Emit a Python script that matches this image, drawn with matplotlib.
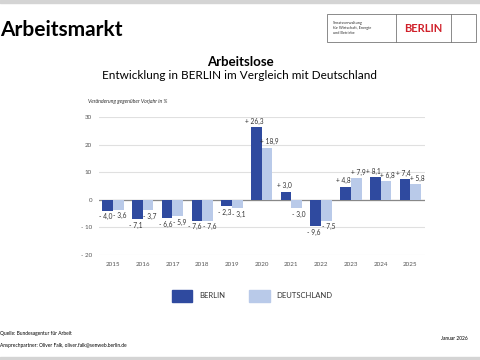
import numpy as np
import matplotlib.pyplot as plt
from matplotlib.patches import Rectangle

years = ["2015", "2016", "2017", "2018", "2019", "2020", "2021", "2022", "2023", "2024", "2025"]
berlin = [-4.0, -7.1, -6.6, -7.6, -2.3, 26.3, 3.0, -9.6, 4.8, 8.1, 7.4]
deutschland = [-3.6, -3.7, -5.9, -7.6, -3.1, 18.9, -3.0, -7.5, 7.9, 6.8, 5.8]
yticks = [-20, -10, 0, 10, 20, 30]

c_berlin = "#2f4a9f"
c_de = "#b9cae9"
grey = "#555555"

plt.rcParams['font.family'] = ['Lato', 'DejaVu Sans']

def fmt(v):
    s = f"{abs(v):.1f}".replace(".", ",")
    return ("+ " if v > 0 else "- ") + s

fig = plt.figure(figsize=(4.8, 3.6), dpi=100)

# grey bands top and bottom
fig.patches.append(Rectangle((0, 0.992), 1, 0.008, transform=fig.transFigure, color="#d4d4d4"))
fig.patches.append(Rectangle((0, 0), 1, 0.008, transform=fig.transFigure, color="#d4d4d4"))

fig.text(0.0, 1 - 30 / 360, "Arbeitsmarkt", fontsize=15, fontweight="bold", va="center", ha="left")

# logo box
fig.patches.append(Rectangle((327 / 480, 1 - 42 / 360), 149 / 480, 28 / 360, transform=fig.transFigure,
                             fill=False, edgecolor="#777777", lw=0.6))
for xx in (396, 451):
    fig.add_artist(plt.Line2D([xx / 480, xx / 480], [1 - 42 / 360, 1 - 14 / 360], color="#777777", lw=0.6))
fig.text(333 / 480, 1 - 28 / 360, "Senatsverwaltung\nfür Wirtschaft, Energie\nund Betriebe",
         fontsize=2.8, va="center", ha="left", color="#333333", linespacing=1.3)
fig.text(423.5 / 480, 1 - 28 / 360, "BERLIN", fontsize=8, fontweight="bold", color="#d0202a",
         va="center", ha="center")

fig.text(0.5, 1 - 62 / 360, "Arbeitslose", fontsize=9.5, fontweight="bold", ha="center", va="center")
fig.text(0.5, 1 - 75.5 / 360, "Entwicklung in BERLIN im Vergleich mit Deutschland", fontsize=8.5,
         ha="center", va="center")
fig.text(88 / 480, 1 - 101 / 360, "Veränderung gegenüber Vorjahr in %", fontsize=3.8, style="italic",
         ha="left", va="center", color="#333333")

ax = fig.add_axes([99 / 480, 1 - 255 / 360, 326 / 480, 138 / 360])
x = np.arange(len(years))
w = 0.36
ax.bar(x - w / 2, berlin, w, color=c_berlin, zorder=3)
ax.bar(x + w / 2, deutschland, w, color=c_de, zorder=3)

for i in range(len(years)):
    for xv, v, dx in ((x[i] - w / 2, berlin[i], -0.06), (x[i] + w / 2, deutschland[i], 0.06)):
        if v > 0:
            ax.text(xv + dx, v + 0.8, fmt(v), fontsize=4.8, ha="center", va="bottom", color="#333333", zorder=4)
        else:
            ax.text(xv + dx, v - 0.9, fmt(v), fontsize=4.8, ha="center", va="top", color="#333333", zorder=4)

ax.set_ylim(-20, 30)
ax.set_xlim(-0.47, 10.49)
ax.set_yticks(yticks)
ax.set_yticklabels([("- " + str(abs(t))) if t < 0 else str(t) for t in yticks], fontsize=4.5, color=grey)
ax.set_xticks(x)
ax.set_xticklabels(years, fontsize=4.5, color=grey)
ax.tick_params(length=0, pad=5)
ax.grid(axis="y", color="#e0e0e0", lw=0.8, zorder=0)
ax.axhline(0, color="#888888", lw=0.9, zorder=2)
for s in ax.spines.values():
    s.set_visible(False)

# legend
fig.patches.append(Rectangle((172 / 480, 1 - 302 / 360), 20 / 480, 12 / 360, transform=fig.transFigure, color=c_berlin))
fig.text(199 / 480, 1 - 296 / 360, "BERLIN", fontsize=5.5, va="center", ha="left", color="#333333")
fig.patches.append(Rectangle((249 / 480, 1 - 302 / 360), 21 / 480, 12 / 360, transform=fig.transFigure, color=c_de))
fig.text(276 / 480, 1 - 296 / 360, "DEUTSCHLAND", fontsize=5.5, va="center", ha="left", color="#333333")

fig.text(0.0, 1 - 334 / 360, "Quelle: Bundesagentur für Arbeit", fontsize=3.5, va="center", ha="left")
fig.text(0.0, 1 - 346 / 360, "Ansprechpartner: Oliver Falk, oliver.falk@senweb.berlin.de", fontsize=3.5,
         va="center", ha="left")
fig.text(468 / 480, 1 - 338 / 360, "Januar 2026", fontsize=3.5, va="center", ha="right")

fig.savefig("out.png", dpi=100)
